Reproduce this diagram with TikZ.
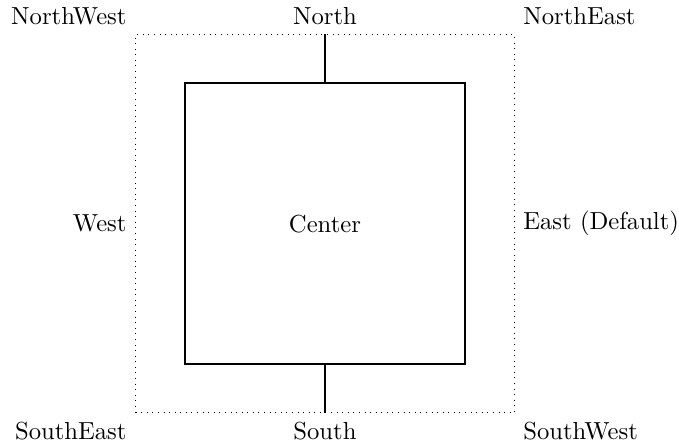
\documentclass[tikz,border=0pt]{standalone}
\usepackage{tikz}
\usetikzlibrary{positioning}

\begin{document}
\begin{tikzpicture}[thick, every node/.style={font=\fontsize{10.6pt}{12.7pt}\selectfont}]
    \useasboundingbox (-4.91, -3.35) rectangle (5.35, 3.38);

    % 虚线外框与中心方块
    \node[draw, thin, dotted, minimum size=5.72cm, inner sep=0] (frame) at (0, 0) {};
    \node[draw, minimum size=4.24cm, inner sep=0] (center) at (0, 0) {Center};

    % 上下连线
    \draw (center.north) -- (frame.north);
    \draw (center.south) -- (frame.south);

    % 方位标注
    \node[above left] (nw) at (frame.north west) {NorthWest};
    \node[above] (n) at (frame.north) {North};
    \node[above right] (ne) at (frame.north east) {NorthEast};
    \node[left] (w) at (frame.west) {West};
    \node[right] (e) at (frame.east) {East (Default)};
    \node[below left] (se) at (frame.south west) {SouthEast};
    \node[below] (s) at (frame.south) {South};
    \node[below right] (sw) at (frame.south east) {SouthWest};
\end{tikzpicture}
\end{document}
